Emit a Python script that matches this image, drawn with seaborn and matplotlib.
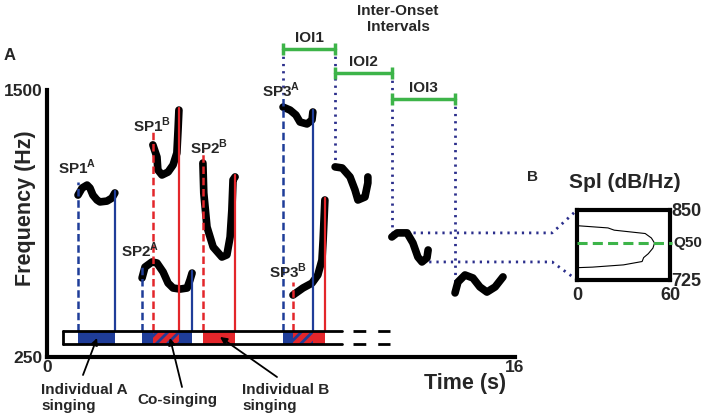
import matplotlib
matplotlib.use("Agg")
import matplotlib.pyplot as plt
import seaborn as sns

sns.set_style("white")
plt.rcParams["font.family"] = ["Liberation Sans", "DejaVu Sans"]
plt.rcParams["font.weight"] = "bold"
plt.rcParams["mathtext.fontset"] = "custom"
plt.rcParams["mathtext.rm"] = "Liberation Sans:bold"
plt.rcParams["mathtext.bf"] = "Liberation Sans:bold"
plt.rcParams["hatch.linewidth"] = 2.0

BLUE = "#1f3d99"
RED = "#e3262b"
NAVY = "#2b2f8c"
GREEN = "#3db449"

# pitch contours of the song phrases (time in s, frequency in Hz)
sp1a_t = [1.06, 1.20, 1.37, 1.47, 1.57, 1.71, 1.81, 2.05, 2.22, 2.32]
sp1a_f = [1008, 1041, 1055, 1041, 1008, 985, 976, 980, 994, 1018]
sp1b_t = [3.62, 3.76, 3.79, 3.93, 4.14, 4.31, 4.44, 4.48, 4.51]
sp1b_f = [1243, 1186, 1126, 1102, 1116, 1149, 1205, 1313, 1406]
sp2a_t = [3.25, 3.35, 3.59, 3.76, 3.97, 4.14, 4.31, 4.55, 4.79, 4.89, 4.96]
sp2a_f = [620, 671, 695, 690, 648, 596, 573, 568, 573, 611, 643]
sp2b_t = [5.33, 5.36, 5.47, 5.68, 5.98, 6.15, 6.26, 6.32, 6.36, 6.43]
sp2b_f = [1158, 1018, 859, 765, 718, 728, 812, 938, 1079, 1093]
sp3a_t = [8.07, 8.31, 8.51, 8.65, 8.89, 9.06, 9.09]
sp3a_f = [1420, 1406, 1383, 1350, 1341, 1360, 1397]
sp3b_t = [8.41, 8.75, 9.06, 9.26, 9.40, 9.44, 9.50]
sp3b_f = [540, 573, 596, 634, 704, 798, 985]

# following phrases used for the inter-onset intervals
c1_t = [9.85, 10.09, 10.36, 10.53, 10.63, 10.87, 10.97, 10.97]
c1_f = [1140, 1135, 1093, 1032, 985, 999, 1065, 1093]
c2_t = [11.79, 11.97, 12.31, 12.51, 12.68, 12.82, 12.99, 13.03]
c2_f = [812, 831, 831, 784, 718, 695, 714, 751]
c3_t = [13.95, 14.05, 14.29, 14.56, 14.80, 15.04, 15.32, 15.59]
c3_f = [550, 601, 634, 620, 578, 554, 578, 625]

# power spectrum of one phrase (panel B)
spec_db = [0, 20, 24, 44, 48, 50, 49, 46, 43, 42, 30, 10, 0]
spec_hz = [822, 818, 814, 808, 800, 791, 782, 772, 765, 758, 752, 748, 747]
q50 = 791

phrases = [
    ("SP1", "A", sp1a_t, sp1a_f),
    ("SP1", "B", sp1b_t, sp1b_f),
    ("SP2", "A", sp2a_t, sp2a_f),
    ("SP2", "B", sp2b_t, sp2b_f),
    ("SP3", "A", sp3a_t, sp3a_f),
    ("SP3", "B", sp3b_t, sp3b_f),
]
singer_col = {"A": BLUE, "B": RED}

W, H = 709, 420
fig = plt.figure(figsize=(W / 100, H / 100), dpi=100)


def rect(x0, y0, x1, y1):
    return [x0 / W, 1 - y1 / H, (x1 - x0) / W, (y1 - y0) / H]


def P(x, y):
    return (x / W, 1 - y / H)


DOT = dict(color=NAVY, lw=2, ls=(0, (0.8, 1.8)), clip_on=False, zorder=1)

ax = fig.add_axes(rect(47, 90, 515, 357))
ax.set_xlim(0, 16)
ax.set_ylim(250, 1500)
for s in ["top", "right"]:
    ax.spines[s].set_visible(False)
for s in ["left", "bottom"]:
    ax.spines[s].set_linewidth(3)
    ax.spines[s].set_color("black")
ax.set_xticks([0, 16])
ax.set_yticks([250, 1500])
ax.tick_params(length=0, labelsize=12.5, pad=3)
ax.tick_params(axis="x", pad=2)

band_lo, band_hi = 311, 372

# contours
for name, who, t, f in phrases:
    sns.lineplot(x=t, y=f, sort=False, estimator=None, ax=ax, color="black",
                 lw=5.5, solid_capstyle="round", solid_joinstyle="round", zorder=3)
for t, f in [(c1_t, c1_f), (c2_t, c2_f), (c3_t, c3_f)]:
    sns.lineplot(x=t, y=f, sort=False, estimator=None, ax=ax, color="black",
                 lw=5.5, solid_capstyle="round", solid_joinstyle="round", zorder=3)

# onset / offset lines and the singing band
for name, who, t, f in phrases:
    c = singer_col[who]
    ax.plot([t[0], t[0]], [band_hi, f[0] + 60], color=c, lw=1.8,
            ls=(0, (3, 1.5)), zorder=4)
    ax.plot([t[-1], t[-1]], [band_hi, f[-1] + 8], color=c, lw=1.6, zorder=4)
    ax.barh((band_lo + band_hi) / 2, t[-1] - t[0], left=t[0],
            height=band_hi - band_lo, color=c, linewidth=0, zorder=2)

a_ph = [p for p in phrases if p[1] == "A"]
b_ph = [p for p in phrases if p[1] == "B"]
for _, _, ta, _ in a_ph:
    for _, _, tb, _ in b_ph:
        lo, hi = max(ta[0], tb[0]), min(ta[-1], tb[-1])
        if hi > lo:
            ax.barh((band_lo + band_hi) / 2, hi - lo, left=lo,
                    height=band_hi - band_lo, facecolor=RED, edgecolor=BLUE,
                    hatch="///", linewidth=0, zorder=2.5)

ax.plot([0.55, 10.09], [band_hi, band_hi], color="black", lw=2, zorder=5)
ax.plot([0.55, 10.09], [band_lo, band_lo], color="black", lw=2, zorder=5)
ax.plot([0.55, 0.55], [band_lo, band_hi], color="black", lw=2, zorder=5)
for yy in [band_lo, band_hi]:
    ax.plot([10.46, 11.73], [yy, yy], color="black", lw=2,
            ls=(0, (4.6, 4.3)), zorder=5)

# inter-onset intervals
ioi_on = [sp3a_t[0], c1_t[0], c2_t[0], c3_t[0]]
ioi_on_f = [sp3a_f[0] + 60, c1_f[0], c2_f[0], c3_f[0]]
ioi_lvl = [1692, 1580, 1458]
tops = [ioi_lvl[0], ioi_lvl[0], ioi_lvl[1], ioi_lvl[2]]
for x, top, bot in zip(ioi_on, tops, ioi_on_f):
    ax.plot([x, x], [top, bot], **DOT)
for i, lvl in enumerate(ioi_lvl):
    x0, x1 = ioi_on[i], ioi_on[i + 1]
    ax.plot([x0, x1], [lvl, lvl], color=GREEN, lw=2.5, marker="|", ms=9,
            mew=2.5, clip_on=False, zorder=4)
    ax.annotate(f"IOI{i + 1}", xy=((x0 + x1) / 2, lvl), xytext=(0, 3),
                textcoords="offset points", ha="center", va="bottom",
                fontsize=11, fontweight="bold", annotation_clip=False)

# panel B
axb = fig.add_axes(rect(577, 210, 670, 280))
axb.set_xlim(0, 60)
axb.set_ylim(725, 850)
for s in axb.spines.values():
    s.set_linewidth(3)
    s.set_color("black")
sns.lineplot(x=spec_db, y=spec_hz, sort=False, estimator=None, ax=axb,
             color="black", lw=0.8)
axb.plot([0, 61.5], [q50, q50], color=GREEN, lw=2.2, ls=(0, (3.3, 1.7)),
         clip_on=False, zorder=5)
axb.yaxis.tick_right()
axb.set_yticks([725, 850])
axb.set_xticks([0, 60])
axb.tick_params(length=0, labelsize=13, pad=1)
axb.tick_params(axis="x", pad=5)
axb.text(62, q50, "Q50", fontsize=11, fontweight="bold", ha="left",
         va="center", clip_on=False)
axb.set_xlabel("")
axb.set_ylabel("")

# dotted link from the contour to panel B
inv = ax.transData.inverted()
tl = inv.transform(axb.transAxes.transform((0, 1)))
bl = inv.transform(axb.transAxes.transform((0, 0)))
hi_f, lo_f = max(c2_f), min(c2_f)
lo_t = c2_t[c2_f.index(lo_f)]
knee = tl[0] - 0.85
ax.plot([c2_t[0], knee, tl[0]], [hi_f, hi_f, tl[1]], **DOT)
ax.plot([lo_t, knee, bl[0]], [lo_f, lo_f, bl[1]], **DOT)

# text
kw = dict(fontweight="bold", ha="center", va="center")
fig.text(*P(10, 55), "A", fontsize=12, **kw)
fig.text(*P(532, 177), "B", fontsize=11, **kw)
fig.text(*P(26, 208), "Frequency (Hz)", fontsize=15.5, rotation=90, **kw)
fig.text(*P(465, 383), "Time (s)", fontsize=15.5, **kw)
fig.text(*P(625, 183), "Spl (dB/Hz)", fontsize=15, **kw)
fig.text(*P(398, 19), "Inter-Onset\nIntervals", fontsize=11,
         linespacing=1.15, **kw)
sp_pos = {"SP1A": (77, 167), "SP1B": (152, 125), "SP2B": (209, 147),
          "SP2A": (140, 250), "SP3A": (281, 90), "SP3B": (288, 271)}
for name, who, t, f in phrases:
    fig.text(*P(*sp_pos[name + who]), name + r"$^{\mathbf{" + who + "}}$",
             fontsize=11, **kw)

fig.text(*P(41, 398), "Individual A\nsinging", fontsize=11, fontweight="bold",
         ha="left", va="center", linespacing=1.25)
fig.text(*P(177, 400), "Co-singing", fontsize=11, **kw)
fig.text(*P(242, 398), "Individual B\nsinging", fontsize=11, fontweight="bold",
         ha="left", va="center", linespacing=1.25)
arrows = [((83, 375), (97, 338)), ((182, 387), (170, 338)), ((277, 377), (220, 337))]
for start, end in arrows:
    ax.annotate("", xy=P(*end), xytext=P(*start), xycoords="figure fraction",
                textcoords="figure fraction", annotation_clip=False,
                arrowprops=dict(arrowstyle="-|>", lw=1.3, color="black",
                                mutation_scale=10, shrinkA=0, shrinkB=0))

fig.savefig("out.png", dpi=100)
